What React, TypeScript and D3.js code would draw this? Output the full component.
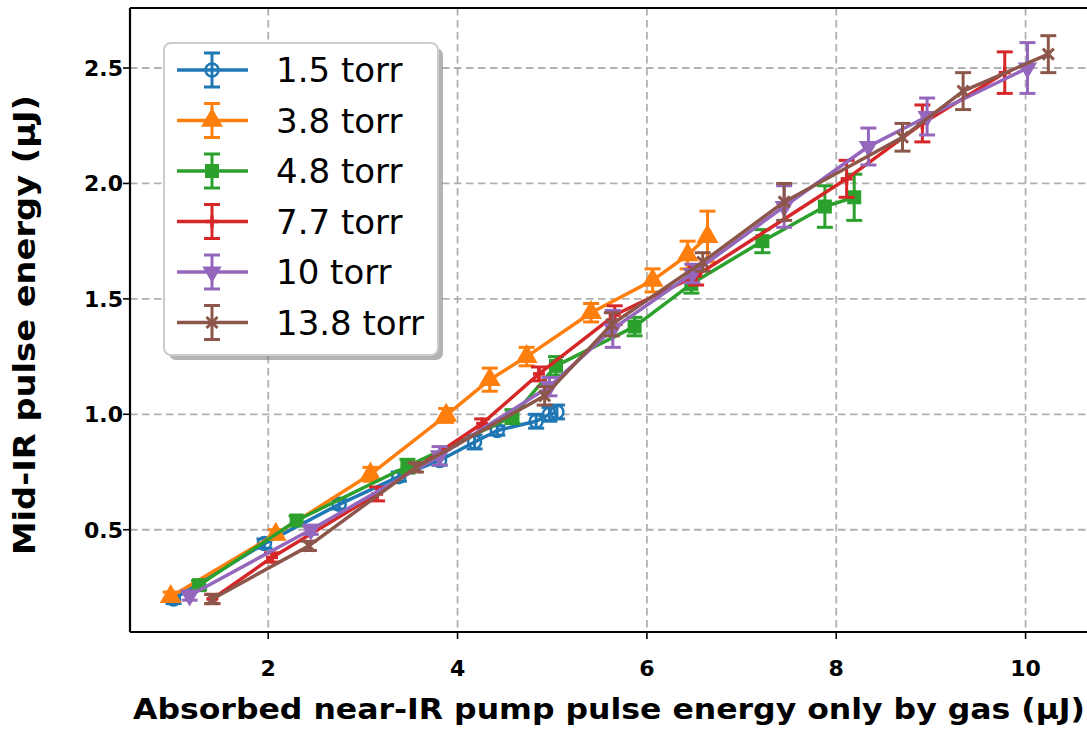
import React from "react";
import * as d3 from "d3";

// Absorbed pump energy (µJ) vs. generated mid-IR energy (µJ) per gas pressure
const labels = ["1.5 torr", "3.8 torr", "4.8 torr", "7.7 torr", "10 torr", "13.8 torr"];
const colors = ["#1f77b4", "#ff7f0e", "#2ca02c", "#d62728", "#9467bd", "#8c564b"];
const markers = ["circle", "triangleUp", "square", "plus", "triangleDown", "cross"];

const x15 = [1.0, 1.96, 2.75, 3.38, 3.81, 4.18, 4.42, 4.83, 4.97, 5.05];
const y15 = [0.2, 0.44, 0.61, 0.73, 0.8, 0.88, 0.93, 0.97, 1.0, 1.01];
const e15 = [0.02, 0.02, 0.02, 0.02, 0.02, 0.03, 0.02, 0.03, 0.03, 0.03];

const x38 = [0.97, 2.08, 3.08, 3.88, 4.34, 4.73, 5.41, 6.06, 6.43, 6.64];
const y38 = [0.21, 0.48, 0.74, 0.995, 1.15, 1.25, 1.44, 1.58, 1.69, 1.77];
const e38 = [0.02, 0.02, 0.03, 0.03, 0.05, 0.04, 0.04, 0.05, 0.06, 0.11];

const x48 = [1.27, 2.3, 3.47, 4.58, 5.04, 5.87, 6.47, 7.22, 7.88, 8.19];
const y48 = [0.26, 0.54, 0.775, 0.99, 1.21, 1.38, 1.565, 1.75, 1.9, 1.94];
const e48 = [0.02, 0.02, 0.03, 0.03, 0.04, 0.04, 0.04, 0.05, 0.09, 0.1];

const x77 = [1.41, 2.04, 3.15, 4.26, 4.86, 5.66, 6.52, 8.11, 8.91, 9.78];
const y77 = [0.2, 0.38, 0.655, 0.96, 1.175, 1.43, 1.6, 2.02, 2.26, 2.48];
const e77 = [0.02, 0.02, 0.03, 0.02, 0.03, 0.04, 0.04, 0.08, 0.08, 0.09];

const x10 = [1.17, 2.45, 3.81, 4.97, 5.64, 6.48, 7.45, 8.34, 8.96, 10.02];
const y10 = [0.215, 0.5, 0.82, 1.12, 1.37, 1.61, 1.9, 2.16, 2.29, 2.5];
const e10 = [0.02, 0.02, 0.04, 0.04, 0.08, 0.04, 0.09, 0.08, 0.08, 0.11];

const x138 = [1.41, 2.43, 3.56, 4.92, 5.63, 6.59, 7.45, 8.7, 9.34, 10.24];
const y138 = [0.2, 0.43, 0.77, 1.08, 1.39, 1.66, 1.92, 2.2, 2.4, 2.56];
const e138 = [0.02, 0.02, 0.02, 0.04, 0.05, 0.04, 0.08, 0.06, 0.08, 0.08];

const xs = [x15, x38, x48, x77, x10, x138];
const ys = [y15, y38, y48, y77, y10, y138];
const es = [e15, e38, e48, e77, e10, e138];

const xTicks = [2, 4, 6, 8, 10];
const yTicks = [0.5, 1.0, 1.5, 2.0, 2.5];

const W = 1087;
const H = 729;
const left = 130;
const right = 1089;
const top = 8;
const bottom = 632;

const xScale = d3.scaleLinear().domain([0.54, 10.67]).range([left, right]);
const yScale = d3.scaleLinear().domain([0.057, 2.76]).range([bottom, top]);

const FONT = "'DejaVu Sans', sans-serif";

function Marker({ kind, color, x, y }: { kind: string; color: string; x: number; y: number }) {
  switch (kind) {
    case "circle":
      return <circle cx={x} cy={y} r={6.5} fill="none" stroke={color} strokeWidth={2.5} />;
    case "triangleUp": {
      const p = d3.symbol(d3.symbolTriangle, 210)();
      return <path d={p || ""} transform={`translate(${x},${y})`} fill={color} />;
    }
    case "triangleDown": {
      const p = d3.symbol(d3.symbolTriangle, 160)();
      return <path d={p || ""} transform={`translate(${x},${y}) rotate(180)`} fill={color} />;
    }
    case "square":
      return <rect x={x - 7} y={y - 7} width={14} height={14} fill={color} />;
    case "plus":
      return (
        <g stroke={color} strokeWidth={3.5}>
          <line x1={x - 6} x2={x + 6} y1={y} y2={y} />
          <line x1={x} x2={x} y1={y - 6} y2={y + 6} />
        </g>
      );
    case "cross":
      return (
        <g stroke={color} strokeWidth={3}>
          <line x1={x - 5.5} x2={x + 5.5} y1={y - 5.5} y2={y + 5.5} />
          <line x1={x - 5.5} x2={x + 5.5} y1={y + 5.5} y2={y - 5.5} />
        </g>
      );
    default:
      return null;
  }
}

function ErrorBar({ x, y0, y1, color }: { x: number; y0: number; y1: number; color: string }) {
  const cap = 8;
  return (
    <g stroke={color} strokeWidth={3}>
      <line x1={x} x2={x} y1={y0} y2={y1} />
      <line x1={x - cap} x2={x + cap} y1={y0} y2={y0} />
      <line x1={x - cap} x2={x + cap} y1={y1} y2={y1} />
    </g>
  );
}

export default function App() {
  const line = d3
    .line<[number, number]>()
    .x((d) => xScale(d[0]))
    .y((d) => yScale(d[1]));

  const legendX = 164;
  const legendY = 43;
  const legendW = 274;
  const legendH = 312;
  const rowGap = 50.5;

  return (
    <svg
      width={W}
      height={H}
      style={{ position: "absolute", left: 0, top: 0, background: "#fff" }}
      fontFamily={FONT}
    >
      <defs>
        <clipPath id="plotArea">
          <rect x={left} y={top} width={right - left} height={bottom - top} />
        </clipPath>
      </defs>
      <rect x={0} y={0} width={W} height={H} fill="#fff" />

      {/* grid */}
      <g stroke="#b0b0b0" strokeWidth={1.8} strokeDasharray="7.5,4.5">
        {xTicks.map((t) => (
          <line key={`gx${t}`} x1={xScale(t)} x2={xScale(t)} y1={top} y2={bottom} />
        ))}
        {yTicks.map((t) => (
          <line key={`gy${t}`} x1={left} x2={right} y1={yScale(t)} y2={yScale(t)} />
        ))}
      </g>

      {/* series */}
      <g clipPath="url(#plotArea)">
        {labels.map((lab, i) => {
          const pts: [number, number][] = xs[i].map((xv, j) => [xv, ys[i][j]]);
          return (
            <g key={lab}>
              <path d={line(pts) || ""} fill="none" stroke={colors[i]} strokeWidth={3.5} strokeLinejoin="round" />
              {pts.map((p, j) => (
                <ErrorBar
                  key={`e${j}`}
                  x={xScale(p[0])}
                  y0={yScale(p[1] - es[i][j])}
                  y1={yScale(p[1] + es[i][j])}
                  color={colors[i]}
                />
              ))}
              {pts.map((p, j) => (
                <Marker key={`m${j}`} kind={markers[i]} color={colors[i]} x={xScale(p[0])} y={yScale(p[1])} />
              ))}
            </g>
          );
        })}
      </g>

      {/* spines */}
      <g stroke="#000" strokeWidth={2.2} fill="none">
        <line x1={left} x2={left} y1={top} y2={bottom} />
        <line x1={left} x2={right} y1={bottom} y2={bottom} />
        <line x1={left} x2={right} y1={top} y2={top} />
        <line x1={right} x2={right} y1={top} y2={bottom} />
      </g>

      {/* ticks */}
      <g stroke="#000" strokeWidth={1.6}>
        {xTicks.map((t) => (
          <line key={`tx${t}`} x1={xScale(t)} x2={xScale(t)} y1={bottom} y2={bottom + 7} />
        ))}
        {yTicks.map((t) => (
          <line key={`ty${t}`} x1={left - 7} x2={left} y1={yScale(t)} y2={yScale(t)} />
        ))}
      </g>
      <g fontSize={22} fontWeight="bold" fill="#000">
        {xTicks.map((t) => (
          <text key={`lx${t}`} x={xScale(t)} y={bottom + 44} textAnchor="middle">
            {d3.format("d")(t)}
          </text>
        ))}
        {yTicks.map((t) => (
          <text key={`ly${t}`} x={left - 7} y={yScale(t) + 8} textAnchor="end">
            {d3.format(".1f")(t)}
          </text>
        ))}
      </g>

      {/* axis titles */}
      <text
        x={133}
        y={719}
        textAnchor="start"
        fontSize={29}
        fontWeight="bold"
        textLength={952}
        lengthAdjust="spacingAndGlyphs"
      >
        Absorbed near-IR pump pulse energy only by gas (μJ)
      </text>
      <text
        transform={`translate(35,555) rotate(-90)`}
        textAnchor="start"
        fontSize={30}
        fontWeight="bold"
        textLength={460}
        lengthAdjust="spacingAndGlyphs"
      >
        Mid-IR pulse energy (μJ)
      </text>

      {/* legend */}
      <g>
        <rect x={legendX + 5} y={legendY + 5} width={legendW} height={legendH} rx={7} fill="#808080" opacity={0.6} />
        <rect x={legendX} y={legendY} width={legendW} height={legendH} rx={7} fill="#fff" stroke="#cccccc" strokeWidth={2} />
        {labels.map((lab, i) => {
          const cy = legendY + 27 + i * rowGap;
          const mx = 212;
          return (
            <g key={`lg${lab}`}>
              <line x1={177} x2={248} y1={cy} y2={cy} stroke={colors[i]} strokeWidth={3.5} />
              <ErrorBar x={mx} y0={cy - 17} y1={cy + 17} color={colors[i]} />
              <Marker kind={markers[i]} color={colors[i]} x={mx} y={cy} />
              <text x={276} y={cy + 12} fontSize={34} fill="#000">
                {lab}
              </text>
            </g>
          );
        })}
      </g>
    </svg>
  );
}
